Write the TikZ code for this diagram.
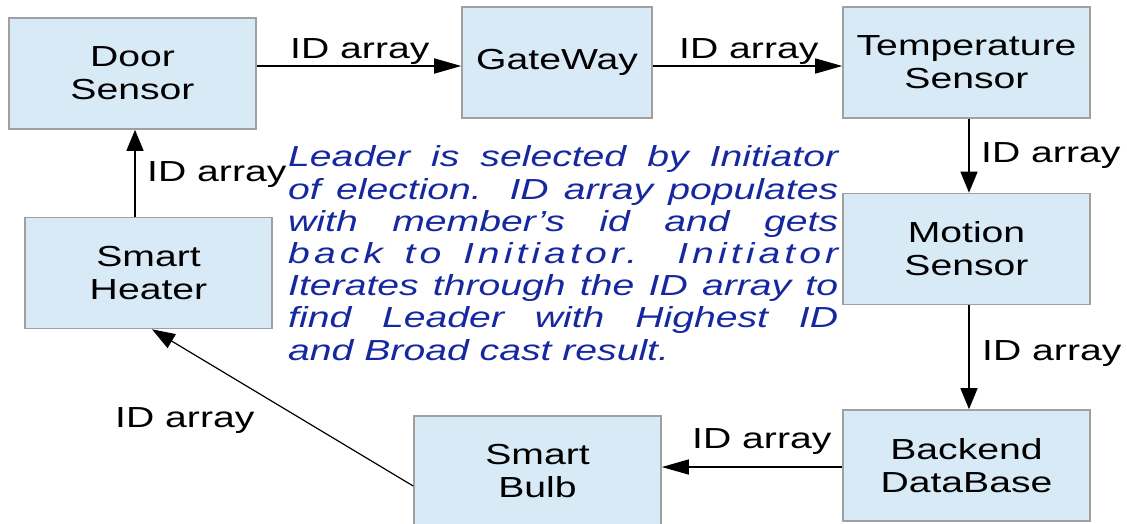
\documentclass[tikz,border=0pt]{standalone}
\usepackage{fontspec}
\setmainfont{Liberation Sans}[FakeStretch=1.35]
\usetikzlibrary{arrows.meta}
\definecolor{boxfill}{RGB}{216,234,246}
\definecolor{boxline}{RGB}{160,160,160}
\definecolor{noteblue}{RGB}{22,40,160}
\begin{document}
\begin{tikzpicture}[x=1pt,y=-1pt,
  box/.style={draw=boxline, line width=1.6pt, fill=boxfill, minimum width=247pt,
    minimum height=111pt, align=center, inner sep=0pt, font=\fontsize{29}{33}\selectfont},
  lbl/.style={font=\fontsize{29}{33}\selectfont, inner sep=0pt, anchor=base west},
  note/.style={font=\itshape\fontsize{29}{32.2}\selectfont, text=noteblue, inner sep=0pt,
    align=left, anchor=base west},
  harr/.style={line width=1.4pt, -{Triangle[length=27pt,width=15pt]}},
  varr/.style={line width=1.4pt, -{Triangle[length=21pt,width=17pt]}},
  darr/.style={line width=1.2pt, -{Triangle[length=23pt,width=16pt]}}]
\useasboundingbox (0,0) rectangle (1127,524);
\hbadness=10000
% boxes
\node[box] (door) at (132.5,73.5) {Door\\Sensor};
\node[box, minimum width=190pt] (gate) at (557,62.5) {GateWay};
\node[box] (temp) at (966.5,62.5) {Temperature\\Sensor};
\node[box] (motion) at (966.5,249) {Motion\\Sensor};
\node[box] (backend) at (966.5,465.5) {Backend\\DataBase};
\node[box] (bulb) at (537.5,471.5) {Smart\\Bulb};
\node[box] (heater) at (148.5,273) {Smart\\Heater};
% connectors
\draw[harr] ([yshift=7.5pt]door.east) -- ([yshift=-3.5pt]gate.west);
\draw[harr] ([yshift=-3.5pt]gate.east) -- ([yshift=-3.5pt]temp.west);
\draw[varr] ([xshift=2.5pt]temp.south) -- ([xshift=2.5pt]motion.north);
\draw[varr] ([xshift=2.5pt]motion.south) -- ([xshift=2.5pt]backend.north);
\draw[harr] ([yshift=-1.5pt]backend.west) -- ([yshift=4.5pt]bulb.east);
\draw[darr] ([yshift=-14.5pt]bulb.west) -- ([xshift=3.5pt]heater.south);
\draw[varr] ([xshift=-13.5pt]heater.north) -- ([xshift=2.5pt]door.south);
% labels
\node[lbl] (l1) at (290,59) {ID array};
\node[lbl] (l2) at (679,59) {ID array};
\node[lbl] (l3) at (981,162) {ID array};
\node[lbl] (l4) at (982,360) {ID array};
\node[lbl] (l5) at (692,448) {ID array};
\node[lbl] (l6) at (115,427) {ID array};
\node[lbl] (l7) at (147,182) {ID array};
% note
\node[note] (txt) at (288,360) {%
\makebox[550pt][s]{Leader is selected by Initiator}\\
\makebox[550pt][s]{of election. ID array populates}\\
\makebox[550pt][s]{with member's id and gets}\\
\makebox[550pt][s]{\addfontfeatures{LetterSpace=14}back to Initiator. Initiator}\\
\makebox[550pt][s]{Iterates through the ID array to}\\
\makebox[550pt][s]{find Leader with Highest ID}\\
and Broad cast result.};
\end{tikzpicture}
\end{document}
